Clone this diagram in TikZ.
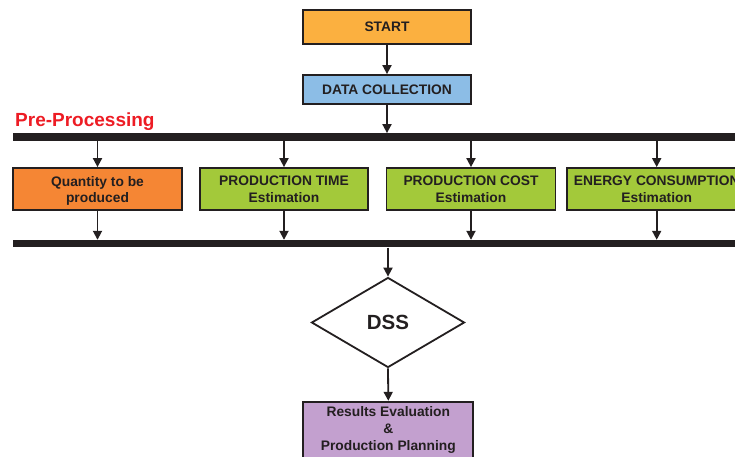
\documentclass[tikz,border=0pt]{standalone}
\usepackage{fontspec}
\setmainfont{Liberation Sans}
\usetikzlibrary{shapes.geometric,arrows.meta}
\definecolor{ink}{HTML}{231F20}
\definecolor{startc}{HTML}{FBB040}
\definecolor{datac}{HTML}{8CBDE6}
\definecolor{qtyc}{HTML}{F58634}
\definecolor{greenc}{HTML}{A3C93A}
\definecolor{resc}{HTML}{C3A0CF}
\definecolor{redc}{HTML}{ED1C24}
\tikzset{
  box/.style={draw=ink, line width=1.8pt, inner sep=0pt, align=center, text=ink,
    font=\fontsize{13.8}{16.5}\selectfont\bfseries},
  bar/.style={fill=ink, inner sep=0pt, minimum height=7.4pt, anchor=west},
  arr/.style={draw=ink, line width=1.8pt, -{Triangle[length=9pt,width=9pt]}},
  txt/.style={inner sep=0pt, align=center, text=ink, anchor=north,
    font=\fontsize{13.8}{16.5}\selectfont\bfseries}
}
\begin{document}
\begin{tikzpicture}[x=1pt,y=-1pt]
\useasboundingbox (0,0) rectangle (735,456);
\clip (0,0) rectangle (735,456);
\node[box, fill=startc, minimum width=168pt, minimum height=34pt] (start) at (387,27) {START};
\node[box, fill=datac, minimum width=168pt, minimum height=29pt] (data) at (387,89.5) {DATA COLLECTION};
\node[anchor=base west, inner sep=0pt, text=redc, font=\fontsize{19}{22}\selectfont\bfseries] (pre) at (15,126) {Pre-Processing};
\node[bar, minimum width=730pt] (bar1) at (13,137) {};
\node[box, fill=qtyc, minimum width=169pt, minimum height=42pt] (b1) at (97.5,189) {};
\node[box, fill=greenc, minimum width=168pt, minimum height=42pt] (b2) at (284,189) {};
\node[box, fill=greenc, minimum width=169pt, minimum height=42pt] (b3) at (471,189) {};
\node[box, fill=greenc, minimum width=180pt, minimum height=42pt] (b4) at (656.7,189) {};
\node[txt] (t1) at (97.5,176) {Quantity to be\\produced};
\node[txt] (t2) at (284,176) {PRODUCTION TIME\\Estimation};
\node[txt] (t3) at (471,176) {PRODUCTION COST\\Estimation};
\node[txt] (t4) at (656.7,176) {ENERGY CONSUMPTION\\Estimation};
\node[bar, minimum width=730pt] (bar2) at (13,243.7) {};
\node[diamond, draw=ink, line width=1.8pt, fill=white, inner sep=0pt, minimum width=153pt, minimum height=90pt, text=ink, font=\fontsize{20.5}{24}\selectfont\bfseries] (dss) at (388,322.5) {DSS};
\node[box, fill=resc, minimum width=170pt, minimum height=64pt] (res) at (388.3,433.7) {};
\node[txt, font=\fontsize{13.8}{17.3}\selectfont\bfseries] (restxt) at (388.3,406) {Results Evaluation\\\&\\Production Planning};
\draw[arr] (start.south) -- (data.north);
\draw[arr] (data.south) -- (data.south |- bar1.north);
\foreach \b in {b1,b2,b3,b4}{
  \draw[arr] (\b.north |- bar1.south) -- (\b.north);
  \draw[arr] (\b.south) -- (\b.south |- bar2.north);
}
\draw[arr] (dss.north |- bar2.south) -- (dss.north);
\draw[arr] (dss.south) -- (res.north);
\end{tikzpicture}
\end{document}
